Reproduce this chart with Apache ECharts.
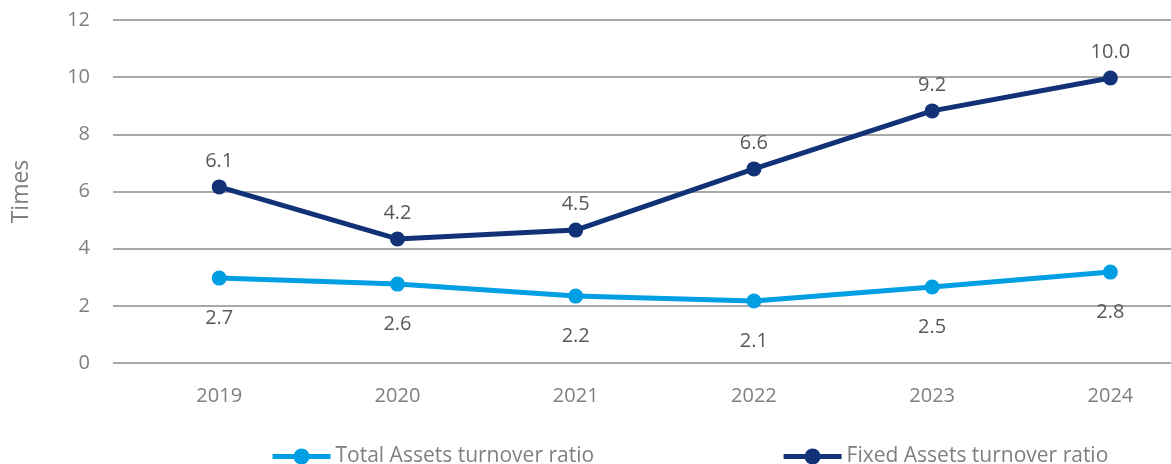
<!DOCTYPE html>
<html>
<head>
<meta charset="utf-8">
<script src="https://cdn.jsdelivr.net/npm/echarts@6/dist/echarts.min.js"></script>
<style>
  html, body { margin: 0; padding: 0; background: #fff; }
  #chart { width: 1171px; height: 464px; }
</style>
</head>
<body>
<div id="chart"></div>
<script>
const years = ['2019', '2020', '2021', '2022', '2023', '2024']
const yTicks = [0, 2, 4, 6, 8, 10, 12]

// plotted positions
const totalAssets = [2.97, 2.76, 2.34, 2.17, 2.66, 3.18]
const fixedAssets = [6.16, 4.34, 4.65, 6.79, 8.82, 9.97]

// printed data labels
const totalLabels = ['2.7', '2.6', '2.2', '2.1', '2.5', '2.8']
const fixedLabels = ['6.1', '4.2', '4.5', '6.6', '9.2', '10.0']

const FONT = '"Open Sans", "Noto Sans", sans-serif'
const GREY = '#7f7f7f'

const chart = echarts.init(document.getElementById('chart'))

const toPoints = (vals) => vals.map((v, i) => [i, v])

chart.setOption({
  animation: false,
  grid: { left: 113, right: 0, top: 20, bottom: 101 },
  xAxis: {
    type: 'value',
    min: -0.596,
    max: 5.34,
    axisLine: { show: false },
    axisTick: { show: false },
    splitLine: { show: false },
    axisLabel: {
      customValues: years.map((y, i) => i),
      formatter: (v) => years[Math.round(v)],
      color: GREY,
      fontFamily: FONT,
      fontSize: 20,
      margin: 23
    }
  },
  yAxis: {
    type: 'value',
    min: yTicks[0],
    max: yTicks[yTicks.length - 1],
    interval: 2,
    name: 'Times',
    nameLocation: 'middle',
    nameGap: 80,
    nameTextStyle: { color: GREY, fontFamily: FONT, fontSize: 23 },
    axisLine: { show: false },
    axisTick: { show: false },
    axisLabel: { color: GREY, fontFamily: FONT, fontSize: 20, margin: 23 },
    splitLine: { lineStyle: { color: '#8c8c8c', width: 1.5 } }
  },
  legend: {
    left: 265,
    top: 441,
    itemWidth: 58,
    itemHeight: 20,
    itemGap: 187,
    lineStyle: { width: 5 },
    textStyle: { color: GREY, fontFamily: FONT, fontSize: 21 }
  },
  series: [
    {
      name: 'Total Assets turnover ratio',
      type: 'line',
      data: toPoints(totalAssets),
      symbol: 'circle',
      symbolSize: 15,
      lineStyle: { color: '#009fe3', width: 5 },
      itemStyle: { color: '#009fe3' },
      label: {
        show: true,
        position: 'bottom',
        distance: 23,
        formatter: (p) => totalLabels[p.dataIndex],
        color: '#595959',
        fontFamily: FONT,
        fontSize: 20
      }
    },
    {
      name: 'Fixed Assets turnover ratio',
      type: 'line',
      data: toPoints(fixedAssets),
      symbol: 'circle',
      symbolSize: 15,
      lineStyle: { color: '#123278', width: 5 },
      itemStyle: { color: '#123278' },
      label: {
        show: true,
        position: 'top',
        distance: 8,
        formatter: (p) => fixedLabels[p.dataIndex],
        color: '#595959',
        fontFamily: FONT,
        fontSize: 20
      }
    }
  ]
})
</script>
</body>
</html>
